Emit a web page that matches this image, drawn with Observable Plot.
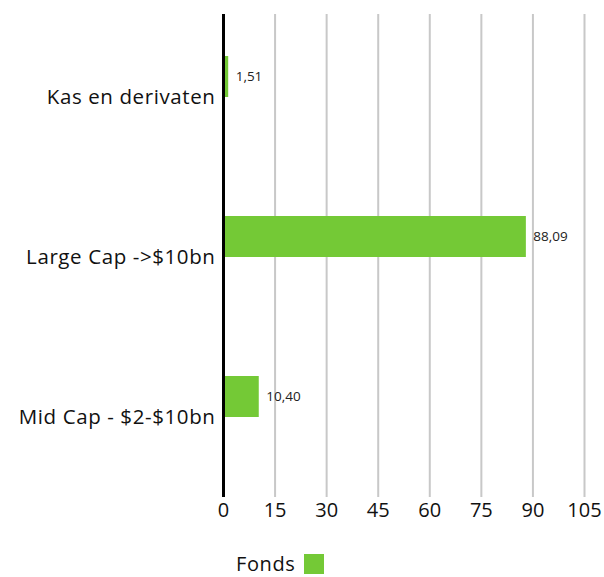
<!DOCTYPE html>
<html>
<head>
<meta charset="utf-8">
<script src="https://cdn.jsdelivr.net/npm/d3@7"></script>
<script src="https://cdn.jsdelivr.net/npm/@observablehq/plot@0.6"></script>
<style>
  body { margin: 0; background: #fff; font-family: "Open Sans", "Noto Sans", sans-serif; }
  #chart { width: 604px; }
  .legend { display: flex; align-items: center; margin-left: 236px; margin-top: 23px; font-size: 20px; letter-spacing: 0.6px; line-height: 22px; color: #111; }
  .legend .sw { display: inline-block; width: 20px; height: 20px; background: #74c936; margin-left: 9px; }
  #chart svg g[aria-label="y-axis tick label"] text { letter-spacing: 0.6px; }
</style>
</head>
<body>
<div id="chart"></div>
<script>
const categories = ["Kas en derivaten", "Large Cap ->$10bn", "Mid Cap - $2-$10bn"];
const values = [1.51, 88.09, 10.40];
const xTicks = [0, 15, 30, 45, 60, 75, 90, 105];
const seriesName = "Fonds";

const data = categories.map((c, i) => ({category: c, value: values[i]}));
const fmt = v => v.toFixed(2).replace(".", ",");

const chart = Plot.plot({
  width: 604,
  height: 530,
  marginTop: 14,
  marginBottom: 33,
  marginLeft: 223,
  marginRight: 20,
  style: {fontFamily: "'Open Sans', 'Noto Sans', sans-serif", color: "#111", background: "#fff"},
  x: {domain: [0, 105], ticks: xTicks},
  y: {domain: categories, paddingInner: 0.744, paddingOuter: 0.38, align: 0.344},
  marks: [
    Plot.gridX(xTicks.filter(t => t > 0), {stroke: "#c8c8c8", strokeOpacity: 1, strokeWidth: 2}),
    Plot.barX(data, {x: "value", y: "category", fill: "#74c936"}),
    Plot.text(data, {x: "value", y: "category", text: d => fmt(d.value), textAnchor: "start", dx: 7, fontSize: 13.5, fill: "#222"}),
    Plot.ruleX([0], {stroke: "#000", strokeWidth: 3}),
    Plot.axisX({ticks: xTicks, tickSize: 0, tickPadding: 5, fontSize: 20, label: null, tickFormat: d => String(d)}),
    Plot.axisY({tickSize: 0, tickPadding: 8, fontSize: 20.5, dy: 20, label: null})
  ]
});
document.getElementById("chart").appendChild(chart);

const legend = document.createElement("div");
legend.className = "legend";
legend.innerHTML = `<span>${seriesName}</span><span class="sw"></span>`;
document.getElementById("chart").appendChild(legend);
</script>
</body>
</html>
